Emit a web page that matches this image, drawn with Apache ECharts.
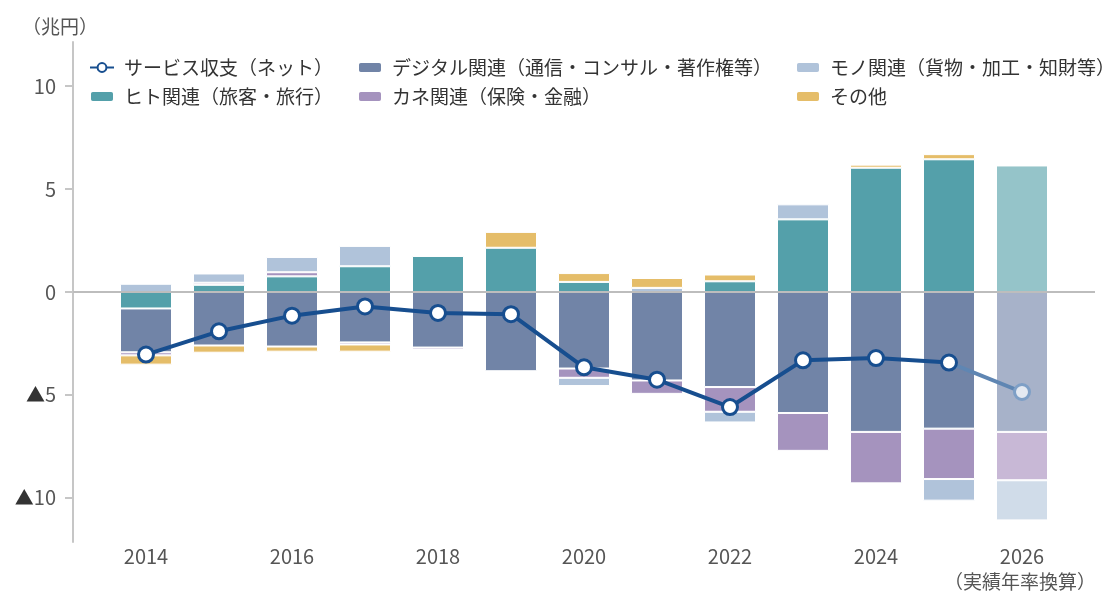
<!DOCTYPE html>
<html>
<head>
<meta charset="utf-8">
<script src="https://cdn.jsdelivr.net/npm/echarts@6/dist/echarts.min.js"></script>
<style>
html,body{margin:0;padding:0;background:#fff;}
#c{width:1108px;height:592px;}
</style>
</head>
<body>
<div id="c"></div>
<script>
// Data (兆円)
const years = ['2013','2014','2015','2016','2017','2018','2019','2020','2021','2022','2023','2024','2025','2026','2027'];
const hito    = ['-', -0.80, 0.35, 0.76, 1.25, 1.75, 2.15, 0.49, '-', 0.52, 3.53, 6.04, 6.45, 6.15, '-'];
const digital = ['-', -2.13, -2.60, -2.65, -2.45, -2.70, -3.85, -3.72, -4.30, -4.62, -5.88, -6.80, -6.64, -6.80, '-'];
const kane    = ['-', -0.15, 0.10, 0.20, -0.10, -0.10, '-', -0.45, -0.65, -1.20, -1.84, -2.50, -2.45, -2.35, '-'];
const mono    = ['-', 0.40, 0.45, 0.74, 0.99, '-', '-', -0.40, 0.20, -0.52, 0.73, '-', -1.05, -1.95, '-'];
const other   = ['-', -0.45, -0.35, -0.25, -0.35, 0.05, 0.77, 0.43, 0.48, 0.33, '-', 0.15, 0.25, '-', '-'];
const net     = ['-', -3.04, -1.91, -1.15, -0.70, -1.02, -1.08, -3.66, -4.26, -5.59, -3.32, -3.21, -3.43, -4.86, '-'];
const yTicks = [-10, -5, 0, 5, 10];
const estimateYear = '2026';

const names = {
  net: 'サービス収支（ネット）',
  digital: 'デジタル関連（通信・コンサル・著作権等）',
  mono: 'モノ関連（貨物・加工・知財等）',
  hito: 'ヒト関連（旅客・旅行）',
  kane: 'カネ関連（保険・金融）',
  other: 'その他'
};

const FONT = '"Noto Sans CJK JP", "Noto Sans", sans-serif';
const estIdx = years.indexOf(estimateYear);

function barData(arr, lightColor) {
  return arr.map((v, i) => {
    if (i === estIdx && v !== '-') return { value: v, itemStyle: { color: lightColor } };
    return v;
  });
}
function barSeries(key, data, color, light) {
  return {
    name: names[key], type: 'bar', stack: 'total', barWidth: 52,
    data: barData(data, light),
    itemStyle: { color: color, borderColor: '#fff', borderWidth: 1 },
    emphasis: { disabled: true }
  };
}

const netDark = net.map((v, i) => (i <= estIdx - 1 ? v : '-'));
const netLight = net.map((v, i) => {
  if (i === estIdx) return v;
  if (i === estIdx - 1) return { value: v, symbol: 'none' };
  return '-';
});

const chart = echarts.init(document.getElementById('c'), null, { renderer: 'canvas' });
const hitoS = barSeries('hito', hito, '#54a0aa', '#95c4c9');
hitoS.markLine = {
  silent: true, symbol: 'none', label: { show: false },
  lineStyle: { color: '#bdbdbd', width: 2, type: 'solid' },
  data: [{ yAxis: 0 }], z: 5
};

const legendCommon = {
  orient: 'vertical', itemWidth: 24, itemHeight: 11, itemGap: 10, padding: 0,
  textStyle: { fontFamily: FONT, fontSize: 19, color: '#333', padding: [0, 0, 0, 5] },
  selectedMode: false
};

chart.setOption({
  animation: false,
  textStyle: { fontFamily: FONT },
  grid: { left: 73, right: 13, top: 42, bottom: 50 },
  legend: [
    Object.assign({ left: 89, top: 58, data: [names.net, names.hito] }, legendCommon),
    Object.assign({ left: 357, top: 58, data: [names.digital, names.kane] }, legendCommon),
    Object.assign({ left: 795, top: 58, data: [names.mono, names.other] }, legendCommon)
  ],
  xAxis: {
    type: 'category', data: years, boundaryGap: false,
    axisLine: { show: false }, axisTick: { show: false },
    axisLabel: {
      fontFamily: FONT, fontSize: 20, color: '#555', margin: 4,
      interval: function (i, v) { return i > 0 && i < years.length - 1 && (+v) % 2 === 0; }
    }
  },
  yAxis: {
    type: 'value', min: -12.15, max: 12.15,
    splitLine: { show: false },
    axisLine: { show: true, lineStyle: { color: '#c6c6c6', width: 2 } },
    axisTick: { show: true, length: 8, customValues: yTicks, lineStyle: { color: '#c6c6c6', width: 2 } },
    axisLabel: {
      customValues: yTicks, fontFamily: FONT, fontSize: 20, color: '#555', margin: 17,
      formatter: function (v) { return v < 0 ? '{t|▲}' + (-v) : String(v); },
      rich: { t: { fontSize: 19, color: '#333' } }
    }
  },
  series: [
    hitoS,
    barSeries('digital', digital, '#7184a7', '#a7b2c9'),
    barSeries('kane', kane, '#a593be', '#c8b8d6'),
    barSeries('mono', mono, '#b0c3da', '#d0dce9'),
    barSeries('other', other, '#e5bd69', '#efd6a4'),
    {
      name: names.net + '_est', type: 'line', data: netLight, z: 9,
      symbol: 'circle', symbolSize: 15,
      lineStyle: { color: '#5f86b3', width: 4 },
      itemStyle: { color: '#e4e9f1', borderColor: '#7e9fc6', borderWidth: 3 },
      emphasis: { disabled: true }
    },
    {
      name: names.net, type: 'line', data: netDark, z: 10,
      symbol: 'circle', symbolSize: 15,
      lineStyle: { color: '#174e8f', width: 4 },
      itemStyle: { color: '#fff', borderColor: '#174e8f', borderWidth: 3 },
      emphasis: { disabled: true }
    }
  ],
  graphic: [
    { type: 'text', left: 22, top: 17, style: { text: '（兆円）', font: '19px ' + FONT, fill: '#555' } },
    { type: 'text', right: 12, top: 572, style: { text: '（実績年率換算）', font: '19px ' + FONT, fill: '#555' } }
  ]
});
</script>
</body>
</html>
